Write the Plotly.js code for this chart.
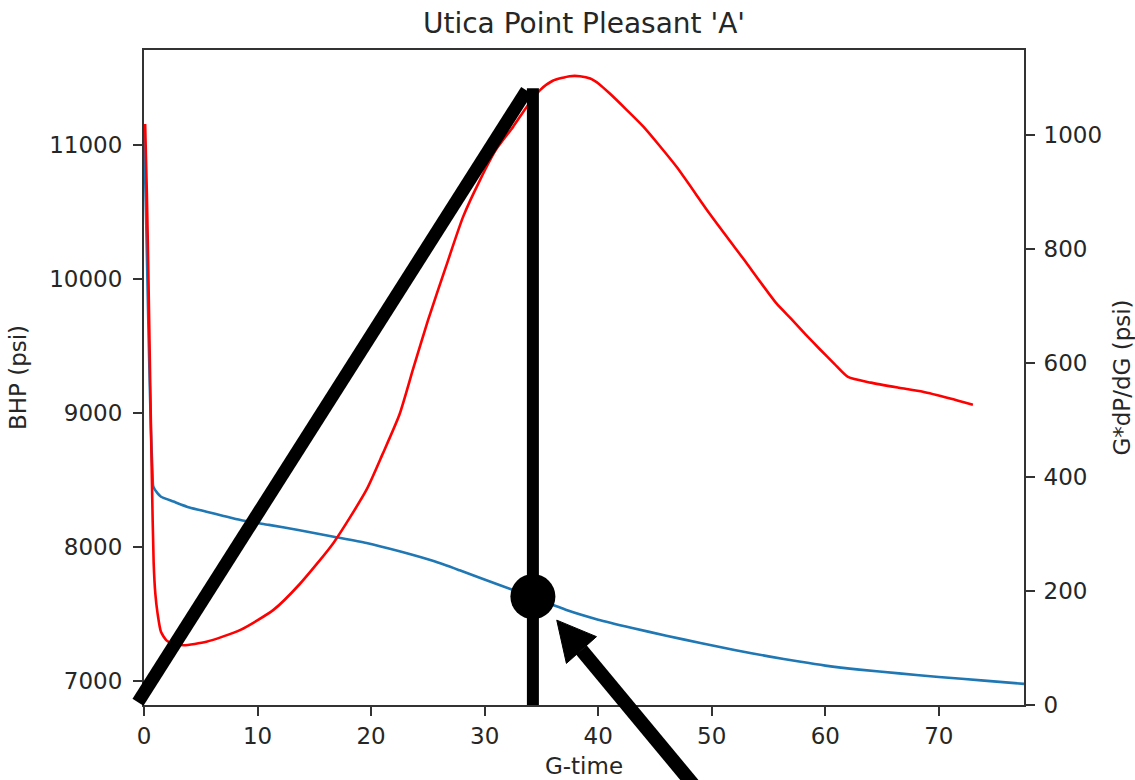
<!DOCTYPE html>
<html>
<head>
<meta charset="utf-8">
<script src="https://cdn.plot.ly/plotly-3.0.1.min.js"></script>
<style>
  html, body { margin: 0; padding: 0; background: #ffffff; }
  #chart { width: 1135px; height: 780px; }
</style>
</head>
<body>
<div id="chart"></div>
<script>
// G-function analysis of the fall-off after the stage: bottom-hole pressure
// and the superposition derivative G*dP/dG, both against G-time.

// Bottom-hole pressure (psi) vs G-time
const bhpG = [0, 0.2, 0.4, 0.6, 0.75, 0.82, 1.2, 1.5, 2.6, 4.0, 5.5, 7.0, 8.5,
  11.0, 13.7, 16.7, 19.6, 22.5, 25.5, 27.8, 31.3, 34.2, 37.2, 40.0, 43.0,
  46.0, 49.0, 52.0, 55.0, 57.7, 60.0, 63.0, 66.5, 70.0, 74.0, 77.5];
const bhpPsi = [11150, 10400, 9600, 8900, 8550, 8451, 8400, 8375, 8339, 8295, 8264, 8232, 8201,
  8165, 8125, 8077, 8030, 7968, 7895, 7826, 7716, 7627, 7530, 7458, 7396,
  7338, 7284, 7232, 7184, 7145, 7115, 7085, 7057, 7030, 7003, 6979];

// Superposition derivative G*dP/dG (psi) vs G-time
const derivG = [0.1, 0.25, 0.4, 0.55, 0.7, 0.85, 1.0, 1.2, 1.5, 2.0, 2.5, 3.5,
  5.5, 8.5, 11.4, 13.7, 16.7, 19.6, 21.0, 22.5, 23.7, 25.0, 26.6, 28.1, 29.6,
  31.0, 32.5, 33.7, 34.9, 36.0, 37.5, 38.4, 39.3, 40.1, 41.0, 42.5, 44.0,
  46.9, 49.8, 52.8, 55.7, 57.0, 58.3, 59.5, 60.8, 62.0, 64.0, 66.5, 68.6,
  71.0, 73.0];
const derivPsi = [1020, 900, 740, 560, 390, 250, 195, 160, 128, 113, 108, 105,
  111, 132, 167, 212, 285, 378, 440, 510, 590, 675, 770, 857, 922,
  975, 1015, 1050, 1080, 1096, 1104, 1104, 1100, 1090, 1074, 1045, 1015,
  945, 863, 783, 705, 678, 650, 625, 599, 576, 566, 557, 550,
  538, 527];

// Axis ranges and ticks
const xRange = [0, 77.5];
const bhpRange = [6821, 11709];
const derivRange = [0, 1150];
const xTicks = [0, 10, 20, 30, 40, 50, 60, 70];
const bhpTicks = [7000, 8000, 9000, 10000, 11000];
const derivTicks = [0, 200, 400, 600, 800, 1000];

// Closure pick: G-time, the derivative value where the tangent ends,
// and the pressure read off at that time
const closureG = 34.25;
const closureDeriv = 1083;
const closurePsi = 7630;

const ink = '#262626';
const spine = '#333333';
const font = 'DejaVu Sans, Verdana, sans-serif';

const traces = [
  {
    x: bhpG, y: bhpPsi, type: 'scatter', mode: 'lines', yaxis: 'y',
    line: { color: '#1f77b4', width: 2.6, shape: 'spline', smoothing: 0.6 },
    hoverinfo: 'x+y', name: 'BHP'
  },
  {
    x: derivG, y: derivPsi, type: 'scatter', mode: 'lines', yaxis: 'y2',
    line: { color: '#ff0000', width: 2.6, shape: 'spline', smoothing: 0.6 },
    hoverinfo: 'x+y', name: 'G*dP/dG'
  }
];

// Helpers to place overlay drawing in paper units from axis values
const gToPaper = g => (g - xRange[0]) / (xRange[1] - xRange[0]);
const dToPaper = d => (d - derivRange[0]) / (derivRange[1] - derivRange[0]);

// Pointer arrow (paper units): tip, head base corners, tail
const tip = [gToPaper(36.35), dToPaper(149)];
const headA = [gToPaper(39.85), dToPaper(120)];
const headB = [gToPaper(37.2), dToPaper(73)];
const baseMid = [(headA[0] + headB[0]) / 2, (headA[1] + headB[1]) / 2];
const tail = [gToPaper(49.5), dToPaper(-167)];

const shapes = [
  // tangent from the origin up to the closure pick
  {
    type: 'line', xref: 'paper', yref: 'paper',
    x0: gToPaper(-0.53), y0: dToPaper(5), x1: gToPaper(33.7), y1: dToPaper(1079),
    line: { color: '#000000', width: 13 }
  },
  // vertical marker at closure
  {
    type: 'line', xref: 'x', yref: 'y2',
    x0: closureG, x1: closureG, y0: 0, y1: closureDeriv,
    line: { color: '#000000', width: 12 }
  },
  // closure pressure dot
  {
    type: 'circle', xref: 'x', yref: 'y',
    xsizemode: 'pixel', ysizemode: 'pixel',
    xanchor: closureG, yanchor: closurePsi,
    x0: -22.5, x1: 22.5, y0: -22.5, y1: 22.5,
    fillcolor: '#000000', line: { color: '#000000', width: 0 }
  },
  // arrow shaft
  {
    type: 'line', xref: 'paper', yref: 'paper',
    x0: baseMid[0], y0: baseMid[1], x1: tail[0], y1: tail[1],
    line: { color: '#000000', width: 14 }
  },
  // arrow head
  {
    type: 'path', xref: 'paper', yref: 'paper',
    path: `M ${tip[0]} ${tip[1]} L ${headA[0]} ${headA[1]} L ${headB[0]} ${headB[1]} Z`,
    fillcolor: '#000000', line: { color: '#000000', width: 1 }
  }
];

const axisCommon = {
  showgrid: false, zeroline: false,
  showline: true, linecolor: spine, linewidth: 2,
  ticks: 'outside', ticklen: 9, tickwidth: 2, tickcolor: spine,
  tickfont: { family: font, size: 23, color: ink },
  tickformat: 'd'
};

const layout = {
  width: 1135, height: 780,
  margin: { l: 144, r: 111, t: 50, b: 75, pad: 0 },
  paper_bgcolor: '#ffffff', plot_bgcolor: '#ffffff',
  showlegend: false,
  font: { family: font, color: ink },
  title: {
    text: "Utica Point Pleasant 'A'",
    font: { family: font, size: 28, color: ink },
    xref: 'paper', x: 0.5, xanchor: 'center',
    yref: 'container', y: 1 - 23 / 780, yanchor: 'middle'
  },
  xaxis: Object.assign({}, axisCommon, {
    range: xRange, tickvals: xTicks, mirror: true, ticklabelstandoff: 0,
    title: { text: 'G-time', font: { family: font, size: 23, color: ink }, standoff: 10 }
  }),
  yaxis: Object.assign({}, axisCommon, {
    range: bhpRange, tickvals: bhpTicks, ticklabelstandoff: 6,
    title: { text: 'BHP (psi)', font: { family: font, size: 23, color: ink }, standoff: 16 }
  }),
  yaxis2: Object.assign({}, axisCommon, {
    range: derivRange, tickvals: derivTicks, ticklabelstandoff: 4,
    overlaying: 'y', side: 'right',
    title: { text: 'G*dP/dG (psi)', font: { family: font, size: 23, color: ink }, standoff: 14 }
  }),
  shapes: shapes
};

Plotly.newPlot('chart', traces, layout, { displayModeBar: false, staticPlot: true });
</script>
</body>
</html>
